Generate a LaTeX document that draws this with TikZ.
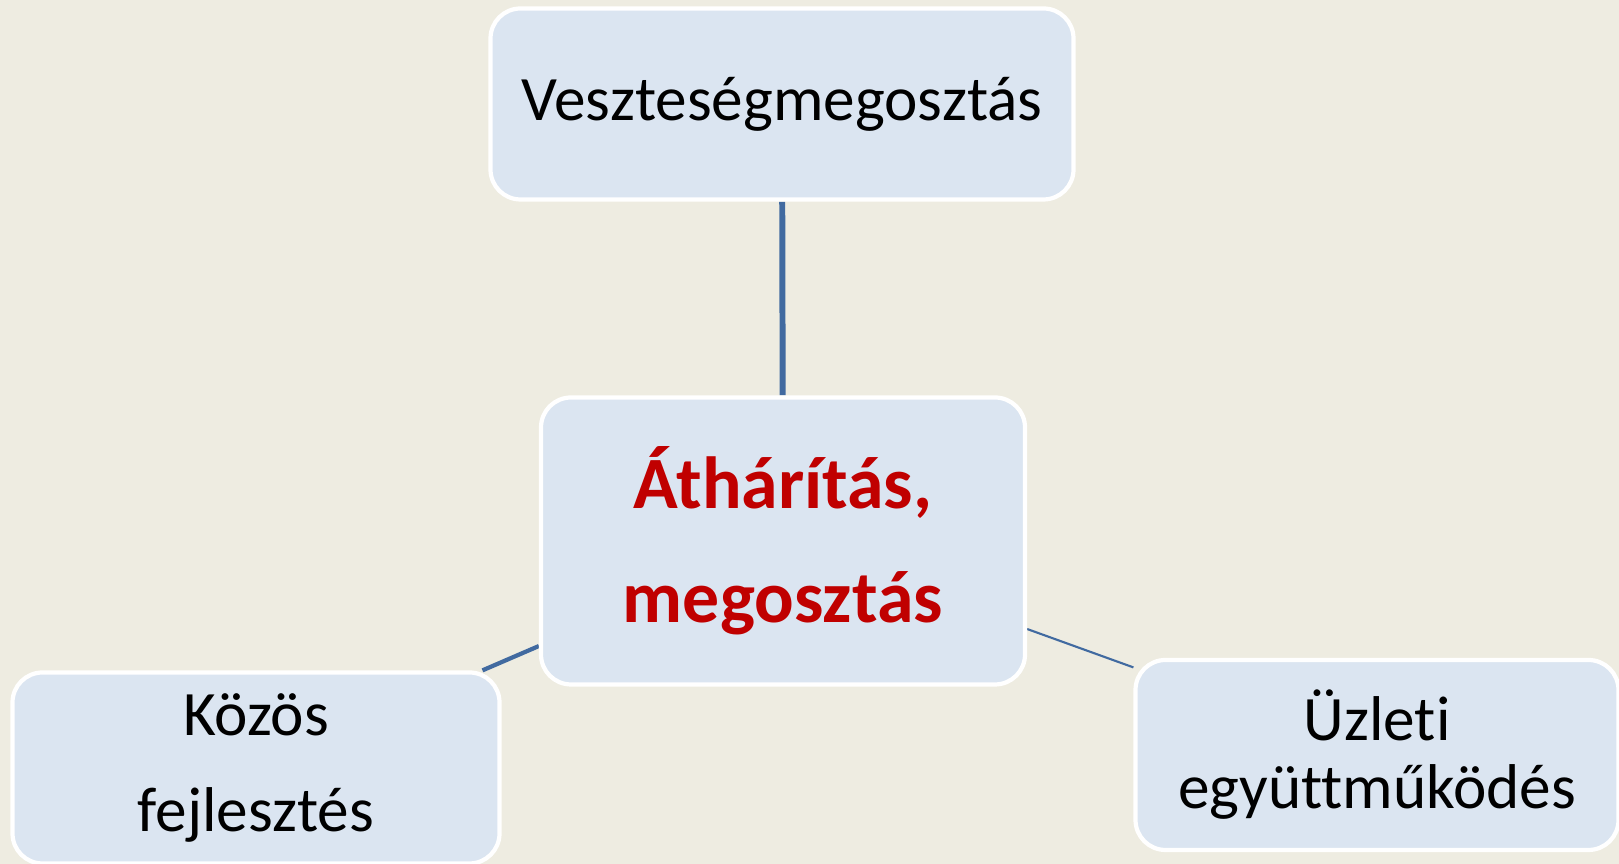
\documentclass[tikz,border=0pt]{standalone}
\usepackage{fontspec}
\setmainfont{Carlito}[Ligatures=NoCommon]
\usepackage{tikz}
\usetikzlibrary{backgrounds}

\definecolor{bgtan}{RGB}{238,236,225}
\definecolor{boxblue}{RGB}{219,229,241}
\definecolor{linkblue}{RGB}{65,106,160}
\definecolor{darkred}{RGB}{192,0,0}

\begin{document}
\begin{tikzpicture}[
    box/.style={draw=white, line width=1.2pt, fill=boxblue, rounded corners=0.3cm,
      align=center, inner sep=0pt},
    link/.style={draw=linkblue}
  ]

  \useasboundingbox (0,0) rectangle (16.19,8.64);

  % the four boxes
  \node[box, minimum width=5.83cm, minimum height=1.91cm,
    font=\fontsize{18}{22}\selectfont] (loss) at (7.82,7.60) {Veszteségmegosztás};
  \node[box, minimum width=4.84cm, minimum height=2.87cm, text=darkred,
    font=\fontsize{21}{32.4}\selectfont\bfseries] (shift) at (7.83,3.23) {Áthárítás,\\megosztás};
  \node[box, minimum width=4.87cm, minimum height=1.91cm,
    font=\fontsize{18}{27.3}\selectfont] (dev) at (2.56,0.96) {Közös\\fejlesztés};
  \node[box, minimum width=4.83cm, minimum height=1.90cm,
    font=\fontsize{18}{19.3}\selectfont] (biz) at (13.77,1.09) {Üzleti\\együttműködés};

  \begin{scope}[on background layer]
    \fill[bgtan] (0,0) rectangle (16.19,8.64);
    \draw[link, line width=1.7pt] (shift) -- (loss);
    \draw[link, line width=1.2pt] (shift) -- (dev);
    \draw[link, line width=0.6pt] (shift) -- (biz);
  \end{scope}

\end{tikzpicture}
\end{document}
